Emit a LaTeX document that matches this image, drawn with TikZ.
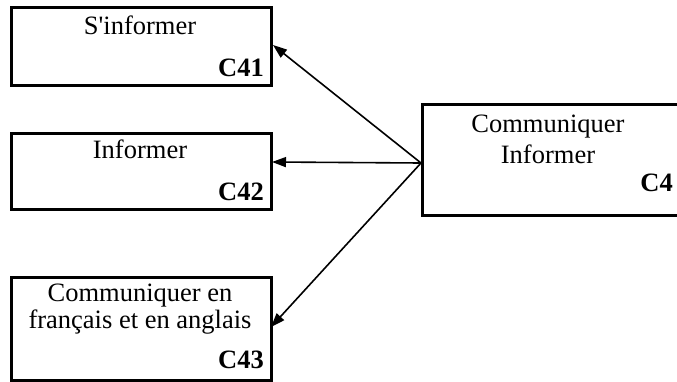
\documentclass[tikz,border=0pt]{standalone}
\usepackage{fontspec}
\setmainfont{Liberation Serif}
\usetikzlibrary{arrows.meta}
\begin{document}
\begin{tikzpicture}[x=1pt,y=-1pt,
  box/.style={draw=black,line width=2.6pt,rectangle,anchor=north west,inner sep=0pt},
  txt/.style={anchor=base,inner sep=0pt,font=\fontsize{26.5}{30}\selectfont},
  code/.style={anchor=base east,inner sep=0pt,font=\fontsize{26.5}{30}\selectfont\bfseries},
  arr/.style={line width=1.6pt,-{Triangle[length=14pt,width=10pt]}}]
\useasboundingbox (0,0) rectangle (677,381);
\begin{scope}
\clip (0,0) rectangle (677,381);
\node[box,minimum width=260pt,minimum height=78pt] (c41) at (10,6) {};
\node[box,minimum width=260pt,minimum height=76pt] (c42) at (10,132) {};
\node[box,minimum width=260pt,minimum height=103pt] (c43) at (10,276) {};
\node[box,minimum width=280pt,minimum height=111pt] (c4) at (421,103) {};
\end{scope}
\node[txt] (t41) at (140,34) {S\textquotesingle informer};
\node[code] (k41) at (264,76) {C41};
\node[txt] (t42) at (140,158) {Informer};
\node[code] (k42) at (264,200) {C42};
\node[txt] (t43a) at (140,301) {Communiquer en};
\node[txt] (t43b) at (140,328) {français et en anglais};
\node[code] (k43) at (264,368) {C43};
\node[txt] (t4a) at (548,132) {Communiquer};
\node[txt] (t4b) at (548,163) {Informer};
\node[code] (k4) at (673,191) {C4};
\coordinate (src) at (421,163);
\coordinate (a41) at (273,45);
\coordinate (a42) at (272,162);
\coordinate (a43) at (271,327);
\draw[arr] (src) -- (a41);
\draw[arr] (src) -- (a42);
\draw[arr] (src) -- (a43);
\end{tikzpicture}
\end{document}
